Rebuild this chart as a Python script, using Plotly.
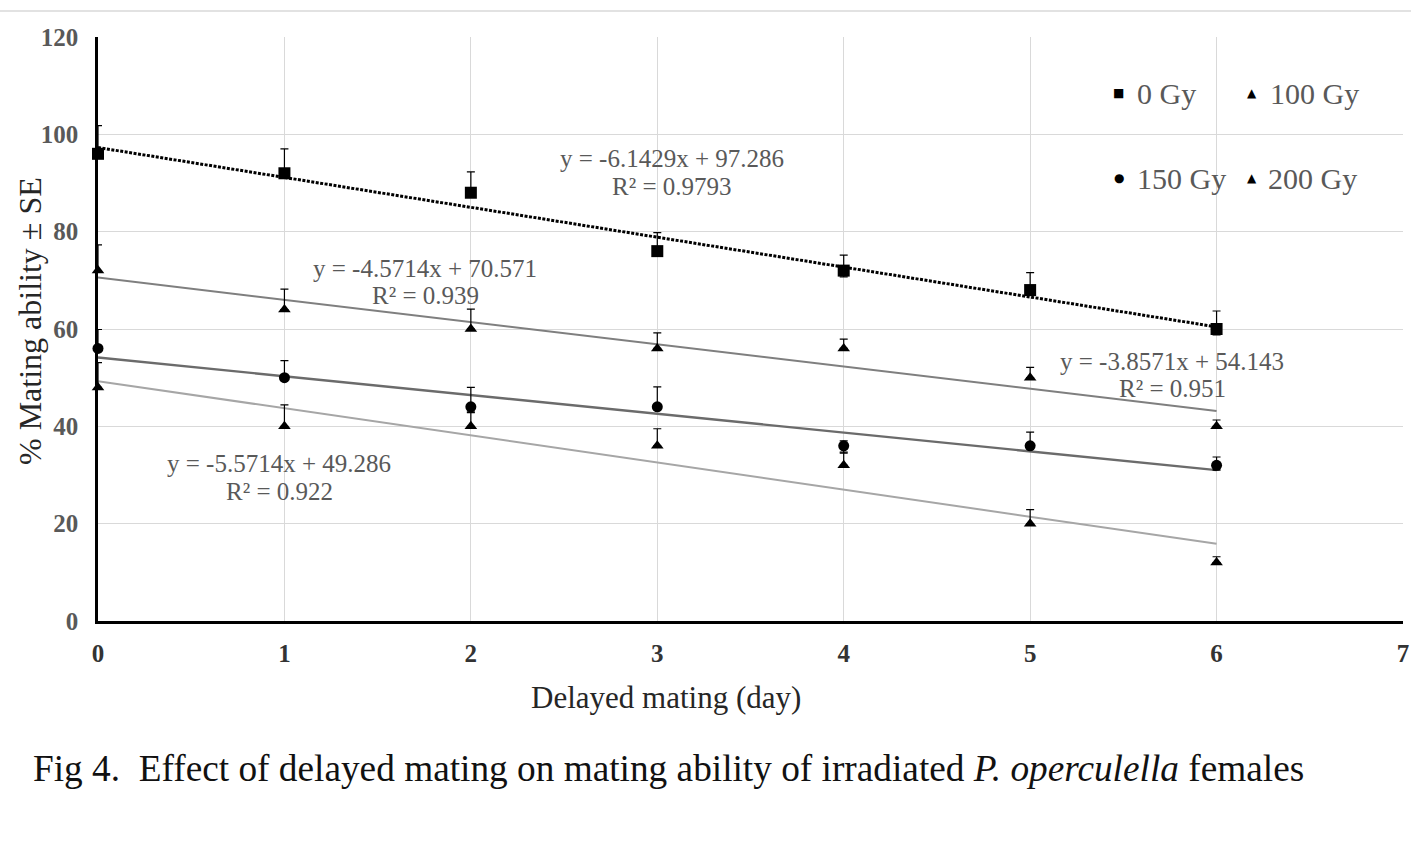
import numpy as np
import plotly.graph_objects as go

days = [0, 1, 2, 3, 4, 5, 6]
gy0 = [96, 92, 88, 76, 72, 68, 60]
gy100 = [72, 64, 60, 56, 56, 50, 40]
gy150 = [56, 50, 44, 44, 36, 36, 32]
gy200 = [48, 40, 40, 36, 32, 20, 12]

err0_plus = [5.8, 5.0, 4.3, 3.8, 3.2, 3.6, 3.7]
err0_minus = [0, 0, 0, 0, 1.3, 0, 1.2]
err100_plus = [5.3, 4.2, 4.1, 3.2, 1.9, 2.1, 1.3]
err100_minus = [0, 0, 0, 0, 0, 0, 0]
err150_plus = [3.9, 3.5, 4.0, 4.1, 1.0, 2.8, 1.7]
err150_minus = [0, 0, 1.2, 0, 1.5, 0, 1.0]
err200_plus = [5.1, 4.4, 3.0, 3.5, 2.7, 2.9, 1.2]
err200_minus = [0, 0, 0, 0, 0, 0, 0]

series_names = ["0 Gy", "100 Gy", "150 Gy", "200 Gy"]
equations = [
    ("y = -6.1429x + 97.286", "R² = 0.9793"),
    ("y = -4.5714x + 70.571", "R² = 0.939"),
    ("y = -3.8571x + 54.143", "R² = 0.951"),
    ("y = -5.5714x + 49.286", "R² = 0.922"),
]
x_ticks = [0, 1, 2, 3, 4, 5, 6, 7]
y_ticks = [0, 20, 40, 60, 80, 100, 120]

W, H = 1411, 841
L, R, T, B = 98, 8, 37, 220
PW, PH = W - L - R, H - T - B
XMAX, YMAX = 7, 120


def dx(px):
    return (px - L) / PW * XMAX


def dy(py):
    return (H - B - py) / PH * YMAX


def px_x(px):
    return (px - L) / PW


def px_y(py):
    return (H - B - py) / PH


SERIF = "Liberation Serif, Times New Roman, serif"
GRAY_TXT = "#595959"

data = [gy0, gy100, gy150, gy200]
eplus = [err0_plus, err100_plus, err150_plus, err200_plus]
eminus = [err0_minus, err100_minus, err150_minus, err200_minus]
symbols = ["square", "triangle-up", "circle", "triangle-up"]
msizes = [12, 11, 11, 11]
line_styles = [
    dict(color="#000000", width=3, dash="3px,1.5px"),
    dict(color="#7f7f7f", width=2),
    dict(color="#6b6b6b", width=2.4),
    dict(color="#a6a6a6", width=2),
]

fig = go.Figure()

# trendlines (least-squares fits of the data)
for ys, ls in zip(data, line_styles):
    m, c = np.polyfit(days, ys, 1)
    xs = np.array([days[0], days[-1]], dtype=float)
    fig.add_trace(go.Scatter(x=xs, y=m * xs + c, mode="lines", line=ls,
                             showlegend=False, hoverinfo="skip"))

for ys, ep, em, sym, ms, name in zip(data, eplus, eminus, symbols, msizes, series_names):
    fig.add_trace(go.Scatter(
        x=days, y=ys, mode="markers", name=name,
        marker=dict(symbol=sym, size=ms, color="black"),
        error_y=dict(type="data", symmetric=False, array=ep, arrayminus=em,
                     color="black", thickness=1.2, width=4),
        showlegend=False, cliponaxis=False,
    ))

annotations = []

# equation labels (pixel positions of line centres)
eq_pos = [
    (672, 158, 186),
    (425, 268, 295),
    (1172, 361, 388),
    (279, 463, 491),
]
for (l1, l2), (cx, y1, y2) in zip(equations, eq_pos):
    for txt, yy in ((l1, y1), (l2, y2)):
        annotations.append(dict(x=dx(cx), y=dy(yy), xref="x", yref="y", text=txt,
                                showarrow=False, xanchor="center", yanchor="middle",
                                font=dict(family=SERIF, size=25, color=GRAY_TXT)))

# legend (2 x 2)
leg = [
    ("■", 1118, 93, series_names[0], 1135),
    ("▲", 1252, 93, series_names[1], 1268),
    ("●", 1119, 178, series_names[2], 1135),
    ("▲", 1252, 178, series_names[3], 1266),
]
for sym, sx, sy, name, tx in leg:
    annotations.append(dict(x=px_x(sx), y=px_y(sy), xref="paper", yref="paper", text=sym,
                            showarrow=False, xanchor="center", yanchor="middle",
                            font=dict(family="DejaVu Sans", size=12, color="black")))
    annotations.append(dict(x=px_x(tx), y=px_y(sy), xref="paper", yref="paper", text=name,
                            showarrow=False, xanchor="left", yanchor="middle",
                            font=dict(family=SERIF, size=30, color=GRAY_TXT)))

# axis titles
annotations.append(dict(x=px_x(666), y=px_y(697), xref="paper", yref="paper",
                        text="Delayed mating (day)", showarrow=False,
                        xanchor="center", yanchor="middle",
                        font=dict(family=SERIF, size=31, color="#262626")))
annotations.append(dict(x=px_x(30), y=px_y(321), xref="paper", yref="paper",
                        text="% Mating ability ± SE", showarrow=False, textangle=-90,
                        xanchor="center", yanchor="middle",
                        font=dict(family=SERIF, size=32, color="#262626")))
# caption
annotations.append(dict(x=px_x(31), y=px_y(768), xref="paper", yref="paper",
                        text="Fig 4.  Effect of delayed mating on mating ability of irradiated "
                             "<i>P. operculella</i> females",
                        showarrow=False, xanchor="left", yanchor="middle",
                        font=dict(family=SERIF, size=37.3, color="#111111")))

shapes = [dict(type="line", xref="paper", yref="paper", x0=px_x(0), x1=px_x(W),
               y0=px_y(11), y1=px_y(11), line=dict(color="#d9d9d9", width=1.5))]

fig.update_layout(
    width=W, height=H,
    margin=dict(l=L, r=R, t=T, b=B, autoexpand=False),
    paper_bgcolor="white", plot_bgcolor="white",
    xaxis=dict(range=[0, XMAX], tickvals=x_ticks, ticktext=[str(v) for v in x_ticks],
               showgrid=True, gridcolor="#d9d9d9", gridwidth=1,
               showline=True, linecolor="black", linewidth=2.5,
               zeroline=False, ticks="", ticklabelstandoff=8,
               tickfont=dict(family=SERIF, size=25, color="#333333", weight="bold")),
    yaxis=dict(range=[0, YMAX], tickvals=y_ticks, ticktext=[str(v) for v in y_ticks],
               showgrid=True, gridcolor="#d9d9d9", gridwidth=1,
               showline=True, linecolor="black", linewidth=2.5,
               zeroline=False, ticks="", ticklabelstandoff=12,
               tickfont=dict(family=SERIF, size=25, color=GRAY_TXT, weight="bold")),
    annotations=annotations, shapes=shapes,
)

fig.write_html("out.html")
